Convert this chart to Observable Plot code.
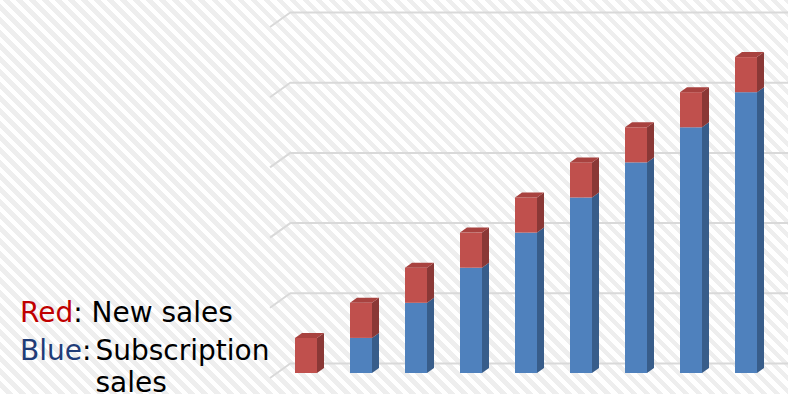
<!DOCTYPE html>
<html>
<head>
<meta charset="utf-8">
<script src="https://cdn.jsdelivr.net/npm/d3@7"></script>
<script src="https://cdn.jsdelivr.net/npm/@observablehq/plot@0.6"></script>
<style>
  html, body { margin: 0; padding: 0; }
  #wrap {
    position: relative; width: 788px; height: 394px; overflow: hidden;
    background: repeating-linear-gradient(45deg, #ffffff 0px, #ffffff 4.6px, #eeeeee 4.6px, #eeeeee 9.2px);
  }
  #wrap svg { position: absolute; left: 0; top: 0; }
  .lg { position: absolute; font-family: "DejaVu Sans", sans-serif; font-size: 28px; line-height: 32px; color: #000; white-space: nowrap; }
  .red { color: #C00000; }
  .blue { color: #1F3C78; }
</style>
</head>
<body>
<div id="wrap"></div>
<script>
// ---- data ----
const periods = ["P1", "P2", "P3", "P4", "P5", "P6", "P7", "P8", "P9"];
const subscriptionSales = [0, 1, 2, 3, 4, 5, 6, 7, 8];
const newSales = [1, 1, 1, 1, 1, 1, 1, 1, 1];
const gridTicks = [0, 2, 4, 6, 8, 10];
const seriesNames = ["Subscription", "New"];

// ---- styles ----
const blueFront = "#4F81BD", blueSide = "#385D8A";
const redFront = "#C0504D", redSide = "#8A3836", redTop = "#A8423F";
const gridColor = "#D9D9D9";
const DX = 7, DY = 5; // 3D depth step in px

const rows = [];
periods.forEach((p, i) => rows.push({period: p, series: "Subscription", value: subscriptionSales[i]}));
periods.forEach((p, i) => rows.push({period: p, series: "New", value: newSales[i]}));

function depthFaces(index, scales, values, dimensions) {
  const {x, y} = scales;
  const bw = x.bandwidth();
  const ml = dimensions.marginLeft;
  const g = d3.create("svg:g");
  // slanted side-wall gridlines
  gridTicks.forEach(v => {
    g.append("line")
      .attr("x1", ml - DX).attr("y1", y(v) + DY)
      .attr("x2", ml + 2 * DX).attr("y2", y(v) - 2 * DY)
      .attr("stroke", gridColor).attr("stroke-width", 2);
  });
  periods.forEach((p, i) => {
    const x1 = x(p), x2 = x1 + bw;
    const b = subscriptionSales[i], t = b + newSales[i];
    const side = (v0, v1, fill) => g.append("polygon")
      .attr("points", [[x2, y(v0)], [x2 + DX, y(v0) - DY], [x2 + DX, y(v1) - DY], [x2, y(v1)]].join(" "))
      .attr("fill", fill);
    if (b > 0) side(0, b, blueSide);
    side(b, t, redSide);
    g.append("polygon")
      .attr("points", [[x1, y(t)], [x1 + DX, y(t) - DY], [x2 + DX, y(t) - DY], [x2, y(t)]].join(" "))
      .attr("fill", redTop);
  });
  return g.node();
}

const chart = Plot.plot({
  width: 788,
  height: 394,
  marginLeft: 277,
  marginRight: 14,
  marginTop: 22,
  marginBottom: 21,
  style: {background: "transparent", overflow: "visible"},
  x: {type: "band", domain: periods, paddingInner: 0.6, paddingOuter: 0.3, axis: null},
  y: {domain: [0, 10], axis: null},
  color: {domain: seriesNames, range: [blueFront, redFront]},
  marks: [
    Plot.ruleY(gridTicks, {y: d => d, dx: 2 * DX, dy: -2 * DY, stroke: gridColor, strokeWidth: 2}),
    Plot.barY(rows, {x: "period", y: "value", fill: "series"}),
    depthFaces
  ]
});

const wrap = document.getElementById("wrap");
wrap.appendChild(chart);

const l1 = document.createElement("div");
l1.className = "lg";
l1.style.left = "20px"; l1.style.top = "297px";
l1.innerHTML = '<span class="red">Red</span>: New sales';
wrap.appendChild(l1);

const l2 = document.createElement("div");
l2.className = "lg";
l2.style.left = "20px"; l2.style.top = "335px";
l2.style.display = "flex";
l2.innerHTML = '<span><span class="blue">Blue</span>:</span><span style="margin-left:4px">Subscription<br>sales</span>';
wrap.appendChild(l2);
</script>
</body>
</html>
